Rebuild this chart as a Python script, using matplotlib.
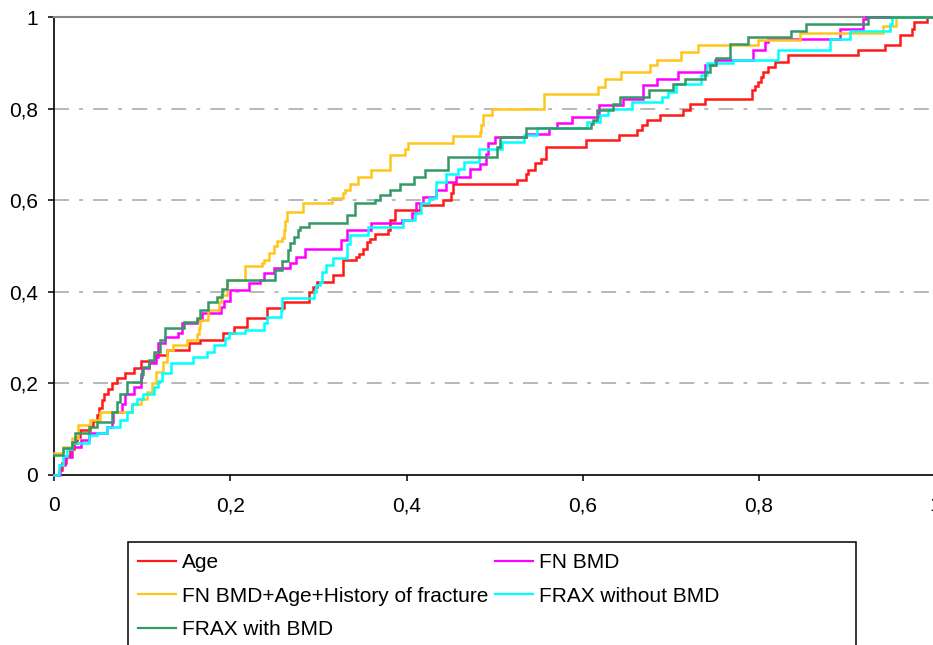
import matplotlib
matplotlib.use("Agg")
import matplotlib.pyplot as plt
from matplotlib.patches import Rectangle

plt.rcParams['font.family'] = ['Liberation Sans', 'DejaVu Sans']

# ---------------- data ----------------
series_names = ["Age", "FN BMD", "FN BMD+Age+History of fracture",
                "FRAX without BMD", "FRAX with BMD"]
series_colors = ["#ff1a1a", "#ff00ff", "#ffc61a", "#00ffff", "#339966"]

age_fpr = [0, 0.005, 0.009, 0.013, 0.018, 0.022, 0.026, 0.029, 0.040, 0.044, 0.048, 0.051,
           0.054, 0.057, 0.061, 0.065, 0.071, 0.080, 0.090, 0.099, 0.114, 0.128, 0.153,
           0.166, 0.192, 0.204, 0.219, 0.242, 0.261, 0.289, 0.294, 0.298, 0.317, 0.328,
           0.343, 0.346, 0.351, 0.355, 0.359, 0.364, 0.379, 0.381, 0.387, 0.415, 0.441,
           0.451, 0.453, 0.525, 0.536, 0.538, 0.546, 0.553, 0.559, 0.604, 0.641, 0.662,
           0.667, 0.673, 0.688, 0.714, 0.722, 0.739, 0.792, 0.796, 0.799, 0.803, 0.805,
           0.811, 0.818, 0.833, 0.913, 0.943, 0.960, 0.974, 0.976, 0.991, 1.0]
age_tpr = [0, 0.010, 0.025, 0.040, 0.055, 0.068, 0.083, 0.097, 0.105, 0.118, 0.130, 0.146,
           0.163, 0.176, 0.187, 0.200, 0.210, 0.221, 0.232, 0.248, 0.262, 0.272, 0.287,
           0.294, 0.309, 0.323, 0.342, 0.364, 0.378, 0.400, 0.410, 0.421, 0.436, 0.469,
           0.476, 0.483, 0.494, 0.508, 0.516, 0.527, 0.534, 0.556, 0.578, 0.589, 0.600,
           0.615, 0.636, 0.644, 0.658, 0.666, 0.681, 0.691, 0.717, 0.731, 0.742, 0.753,
           0.764, 0.775, 0.786, 0.797, 0.811, 0.822, 0.840, 0.850, 0.859, 0.870, 0.881,
           0.891, 0.902, 0.917, 0.928, 0.939, 0.961, 0.975, 0.990, 1.0, 1.0]

fnbmd_fpr = [0, 0.006, 0.012, 0.020, 0.030, 0.039, 0.060, 0.065, 0.067, 0.077, 0.080, 0.090,
             0.098, 0.100, 0.107, 0.115, 0.118, 0.126, 0.140, 0.145, 0.162, 0.168, 0.189,
             0.193, 0.200, 0.221, 0.234, 0.238, 0.249, 0.268, 0.275, 0.285, 0.326, 0.332,
             0.360, 0.395, 0.406, 0.411, 0.419, 0.434, 0.445, 0.456, 0.472, 0.483, 0.490,
             0.493, 0.500, 0.536, 0.562, 0.571, 0.588, 0.619, 0.646, 0.669, 0.684, 0.708,
             0.739, 0.750, 0.794, 0.807, 0.811, 0.892, 0.918, 0.922, 1.0]
fnbmd_tpr = [0, 0.020, 0.039, 0.061, 0.075, 0.090, 0.104, 0.115, 0.137, 0.155, 0.177, 0.192,
             0.214, 0.232, 0.243, 0.258, 0.287, 0.301, 0.310, 0.331, 0.338, 0.353, 0.367,
             0.380, 0.404, 0.418, 0.426, 0.440, 0.451, 0.462, 0.475, 0.494, 0.513, 0.534,
             0.549, 0.556, 0.571, 0.593, 0.607, 0.622, 0.640, 0.651, 0.669, 0.680, 0.700,
             0.724, 0.738, 0.745, 0.757, 0.768, 0.782, 0.808, 0.822, 0.851, 0.866, 0.880,
             0.895, 0.906, 0.928, 0.946, 0.953, 0.975, 0.997, 1.0, 1.0]

comb_fpr = [0, 0.010, 0.020, 0.027, 0.041, 0.052, 0.088, 0.098, 0.105, 0.111, 0.116, 0.124,
            0.128, 0.135, 0.151, 0.162, 0.164, 0.166, 0.175, 0.187, 0.189, 0.196, 0.217,
            0.236, 0.238, 0.244, 0.249, 0.253, 0.259, 0.261, 0.262, 0.264, 0.283, 0.315,
            0.328, 0.330, 0.336, 0.345, 0.360, 0.381, 0.398, 0.402, 0.453, 0.483, 0.485,
            0.487, 0.497, 0.556, 0.618, 0.626, 0.644, 0.677, 0.684, 0.712, 0.731, 0.799,
            0.847, 0.941, 0.956, 1.0]
comb_tpr = [0.046, 0.061, 0.080, 0.108, 0.119, 0.137, 0.155, 0.166, 0.181, 0.200, 0.225, 0.247,
            0.272, 0.283, 0.294, 0.307, 0.320, 0.338, 0.360, 0.378, 0.393, 0.426, 0.455,
            0.462, 0.469, 0.484, 0.499, 0.510, 0.517, 0.535, 0.555, 0.574, 0.593, 0.604,
            0.615, 0.622, 0.636, 0.651, 0.666, 0.698, 0.713, 0.724, 0.740, 0.750, 0.764,
            0.786, 0.800, 0.833, 0.848, 0.866, 0.880, 0.895, 0.906, 0.924, 0.939, 0.951,
            0.966, 0.982, 1.0, 1.0]

fraxno_fpr = [0, 0.005, 0.010, 0.014, 0.020, 0.039, 0.048, 0.060, 0.075, 0.082, 0.088, 0.094,
              0.101, 0.113, 0.118, 0.122, 0.132, 0.158, 0.173, 0.181, 0.194, 0.198, 0.217,
              0.238, 0.242, 0.257, 0.259, 0.295, 0.297, 0.302, 0.304, 0.309, 0.317, 0.332,
              0.336, 0.356, 0.396, 0.410, 0.417, 0.425, 0.434, 0.445, 0.459, 0.465, 0.482,
              0.508, 0.533, 0.548, 0.605, 0.620, 0.629, 0.656, 0.690, 0.697, 0.706, 0.735,
              0.741, 0.771, 0.822, 0.881, 0.904, 0.949, 0.951, 1.0]
fraxno_tpr = [0, 0.020, 0.040, 0.055, 0.068, 0.086, 0.090, 0.104, 0.120, 0.137, 0.155, 0.166,
              0.177, 0.192, 0.205, 0.221, 0.243, 0.258, 0.269, 0.283, 0.298, 0.309, 0.316,
              0.331, 0.345, 0.360, 0.385, 0.400, 0.414, 0.421, 0.443, 0.458, 0.473, 0.505,
              0.523, 0.542, 0.556, 0.571, 0.593, 0.604, 0.640, 0.658, 0.669, 0.684, 0.713,
              0.727, 0.742, 0.757, 0.771, 0.786, 0.800, 0.815, 0.826, 0.837, 0.855, 0.873,
              0.899, 0.906, 0.928, 0.953, 0.971, 0.986, 1.0, 1.0]

fraxbmd_fpr = [0, 0.010, 0.020, 0.024, 0.039, 0.048, 0.065, 0.071, 0.075, 0.082, 0.098, 0.101,
               0.107, 0.113, 0.120, 0.126, 0.147, 0.162, 0.166, 0.175, 0.185, 0.190, 0.196,
               0.251, 0.259, 0.265, 0.268, 0.272, 0.277, 0.279, 0.289, 0.332, 0.342, 0.364,
               0.370, 0.381, 0.393, 0.408, 0.421, 0.447, 0.503, 0.506, 0.536, 0.610, 0.612,
               0.616, 0.635, 0.642, 0.675, 0.703, 0.716, 0.739, 0.745, 0.752, 0.767, 0.788,
               0.837, 0.854, 0.924, 1.0]
fraxbmd_tpr = [0.042, 0.057, 0.070, 0.090, 0.104, 0.115, 0.137, 0.159, 0.177, 0.203, 0.220, 0.236,
               0.250, 0.269, 0.294, 0.320, 0.334, 0.342, 0.360, 0.378, 0.389, 0.405, 0.426,
               0.447, 0.466, 0.491, 0.506, 0.520, 0.535, 0.542, 0.549, 0.567, 0.593, 0.600,
               0.611, 0.622, 0.636, 0.651, 0.666, 0.695, 0.716, 0.738, 0.757, 0.766, 0.775,
               0.797, 0.811, 0.826, 0.840, 0.855, 0.866, 0.880, 0.895, 0.910, 0.942, 0.957,
               0.971, 0.985, 1.0, 1.0]

x_ticks = [0, 0.2, 0.4, 0.6, 0.8, 1.0]
x_tick_labels = ["0", "0,2", "0,4", "0,6", "0,8", "1"]
y_ticks = [0, 0.2, 0.4, 0.6, 0.8, 1.0]
y_tick_labels = ["0", "0,2", "0,4", "0,6", "0,8", "1"]
grid_levels = [0.2, 0.4, 0.6, 0.8]

# ---------------- figure ----------------
W, H = 933, 645
fig = plt.figure(figsize=(W / 100, H / 100), dpi=100)
fig.patch.set_facecolor("white")

ax_left, ax_right, ax_top, ax_bottom = 54.3, 934.8, 17.3, 474.5
ax = fig.add_axes([ax_left / W, 1 - ax_bottom / H,
                   (ax_right - ax_left) / W, (ax_bottom - ax_top) / H])
ax.set_xlim(0, 1)
ax.set_ylim(0, 1)

for lvl in grid_levels:
    ax.axhline(lvl, color="#b8b8b8", lw=1.4, linestyle=(0, (7.7, 5.2, 2.0, 5.2)), zorder=1)

data = [(age_fpr, age_tpr), (fnbmd_fpr, fnbmd_tpr), (comb_fpr, comb_tpr),
        (fraxno_fpr, fraxno_tpr), (fraxbmd_fpr, fraxbmd_tpr)]
handles = []
for (fx, ty), name, col in zip(data, series_names, series_colors):
    h, = ax.plot(fx, ty, drawstyle="steps-post", color=col, lw=1.8, label=name,
                 zorder=3, clip_on=False, solid_joinstyle="miter")
    handles.append(h)

ax.spines["right"].set_visible(False)
ax.spines["top"].set_color("#888888")
ax.spines["top"].set_linewidth(1.5)
ax.spines["left"].set_color("black")
ax.spines["left"].set_linewidth(1.2)
ax.spines["bottom"].set_color("black")
ax.spines["bottom"].set_linewidth(1.2)

ax.set_xticks(x_ticks)
ax.set_xticklabels(x_tick_labels)
ax.set_yticks(y_ticks)
ax.set_yticklabels(y_tick_labels)
ax.tick_params(axis="both", direction="out", length=4.5, width=1.1, color="black",
               labelsize=15, labelcolor="black")
ax.tick_params(axis="y", pad=7.5)
ax.tick_params(axis="x", pad=11)

# legend (row-major like the original: reorder for matplotlib's column-major fill)
order = [0, 2, 4, 1, 3]
leg = fig.legend([handles[i] for i in order], [series_names[i] for i in order],
                 loc="upper left", bbox_to_anchor=(138 / W, 1 - 553 / H),
                 ncol=2, frameon=False, fontsize=15, borderpad=0, borderaxespad=0,
                 handlelength=1.8, handletextpad=0.3, columnspacing=0.35,
                 labelspacing=0.7)
for lh in leg.get_lines():
    lh.set_linewidth(1.6)

rect = Rectangle((128 / W, 1 - 660 / H), (856 - 128) / W, (660 - 542) / H,
                 transform=fig.transFigure, fill=False, edgecolor="black", lw=1.1)
fig.patches.append(rect)

fig.savefig("out.png", dpi=100, facecolor="white")
